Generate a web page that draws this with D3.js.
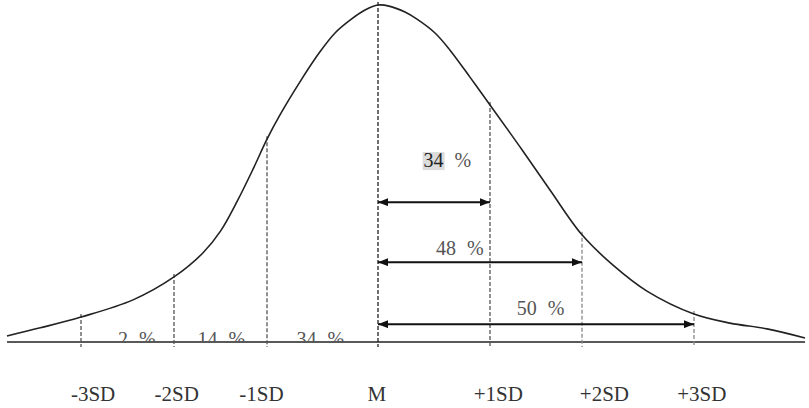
<!DOCTYPE html>
<html>
<head>
<meta charset="utf-8">
<script src="https://cdn.jsdelivr.net/npm/d3@7"></script>
<style>
  html, body { margin: 0; padding: 0; background: #fff; }
  svg { display: block; }
</style>
</head>
<body>
<svg id="chart" width="809" height="408"></svg>
<script>
// Standard deviation marks and their axis labels
const sdTicks  = [-3, -2, -1, 0, 1, 2, 3];
const sdLabels = ["-3SD", "-2SD", "-1SD", "M", "+1SD", "+2SD", "+3SD"];
const sdLabelAt = [-2.87, -1.97, -1.06, -0.01, 1.09, 2.2, 3.07];

// Bell curve outline: position in SD units and relative height (peak = 1)
const curveZ = [-3.8, -3.44, -3, -2.44, -2, -1.69, -1.5, -1.32, -1.15, -1, -0.883, -0.703,
                -0.523, -0.387, -0.252, -0.117, 0, 0.107, 0.241, 0.348, 0.509, 0.643, 0.821,
                1, 1.326, 1.652, 2, 2.277, 2.58, 3, 3.324, 3.658, 4];
const curveH = [0.018, 0.042, 0.074, 0.125, 0.193, 0.264, 0.329, 0.418, 0.513, 0.602, 0.674, 0.772,
                0.861, 0.917, 0.955, 0.985, 1, 0.996, 0.979, 0.958, 0.917, 0.866, 0.786,
                0.703, 0.579, 0.451, 0.318, 0.228, 0.151, 0.083, 0.056, 0.039, 0.012];

// Share of cases in each band left of the mean
const bandLabels = ["2 %", "14 %", "34 %"];
const bandAt = [-2.4, -1.49, -0.52];

// Cumulative shares measured from the mean
const arrowTo = [1, 2, 3];
const arrowLevel = [0.415, 0.237, 0.053];
const arrowPct = ["34", "48", "50"];
const arrowTextAt = [0.62, 0.73, 1.55];
const arrowTextLevel = [0.519, 0.258, 0.08];

const serif = "'Liberation Serif', 'DejaVu Serif', 'Times New Roman', serif";
const svg = d3.select("#chart");

const x = d3.scaleLinear()
  .domain([-3.8, -3, -2, -1, 0, 1, 2, 3, 4])
  .range([7, 81, 174, 267, 378, 490, 582, 694, 805]);
const y = d3.scaleLinear().domain([0, 1]).range([342, 5]);

const pts = curveZ.map((z, i) => [z, curveH[i]]);
const hAt = z => curveH[curveZ.indexOf(z)];

// arrow heads
const defs = svg.append("defs");
["end", "start"].forEach(k => {
  defs.append("marker")
    .attr("id", "head-" + k)
    .attr("viewBox", "0 0 10 8")
    .attr("refX", k === "end" ? 10 : 0)
    .attr("refY", 4)
    .attr("markerWidth", 10)
    .attr("markerHeight", 8)
    .attr("markerUnits", "userSpaceOnUse")
    .attr("orient", "auto")
    .append("path")
    .attr("d", k === "end" ? "M0,0L10,4L0,8Z" : "M10,0L0,4L10,8Z")
    .attr("fill", "#111");
});
defs.append("clipPath").attr("id", "above-base")
  .append("rect").attr("x", 0).attr("y", 0).attr("width", 809).attr("height", y(0));

// baseline
svg.append("line")
  .attr("x1", x(-3.8)).attr("x2", x(4))
  .attr("y1", y(0)).attr("y2", y(0))
  .attr("stroke", "#222").attr("stroke-width", 1.6);

// dashed SD lines
const lineColor = z => z === 0 ? "#222" : (z >= 2 ? "#888" : "#555");
svg.append("g").selectAll("line").data(sdTicks).join("line")
  .attr("x1", d => x(d)).attr("x2", d => x(d))
  .attr("y1", d => y(hAt(d)) - 3)
  .attr("y2", y(0) + 5)
  .attr("stroke", lineColor)
  .attr("stroke-width", 1.3)
  .attr("stroke-dasharray", "4,2");

// curve
svg.append("path")
  .datum(pts)
  .attr("d", d3.line().x(d => x(d[0])).y(d => y(d[1])).curve(d3.curveCatmullRom.alpha(0.5)))
  .attr("fill", "none")
  .attr("stroke", "#222")
  .attr("stroke-width", 1.6);

// band percentages (sitting on the baseline)
svg.append("g").attr("clip-path", "url(#above-base)")
  .selectAll("text").data(bandLabels).join("text")
  .attr("x", (d, i) => x(bandAt[i]))
  .attr("y", y(0) + 4)
  .attr("text-anchor", "middle")
  .attr("font-family", serif)
  .attr("font-size", 20)
  .attr("word-spacing", 6)
  .attr("fill", "#555")
  .text(d => d);

// arrows from the mean
svg.append("g").selectAll("line").data(arrowTo).join("line")
  .attr("x1", x(0)).attr("x2", d => x(d))
  .attr("y1", (d, i) => y(arrowLevel[i]))
  .attr("y2", (d, i) => y(arrowLevel[i]))
  .attr("stroke", "#111")
  .attr("stroke-width", 2)
  .attr("marker-start", "url(#head-start)")
  .attr("marker-end", "url(#head-end)");

// arrow labels
const at = svg.append("g").selectAll("text").data(arrowPct).join("text")
  .attr("x", (d, i) => x(arrowTextAt[i]))
  .attr("y", (d, i) => y(arrowTextLevel[i]))
  .attr("text-anchor", "middle")
  .attr("font-family", serif)
  .attr("font-size", 20)
  .attr("word-spacing", 6)
  .attr("fill", "#555");
at.append("tspan").attr("class", "num").attr("fill", (d, i) => i === 0 ? "#222" : "#555").text(d => d);
at.append("tspan").text(" %");

// highlight behind the first figure
at.filter((d, i) => i === 0).each(function () {
  const bb = this.querySelector(".num").getBBox();
  svg.insert("rect", "g")
    .attr("x", bb.x - 1).attr("y", bb.y + 3)
    .attr("width", bb.width + 2).attr("height", bb.height - 4)
    .attr("fill", "#dcdcdc");
});

// axis labels
svg.append("g").selectAll("text").data(sdLabels).join("text")
  .attr("x", (d, i) => x(sdLabelAt[i]))
  .attr("y", 401)
  .attr("text-anchor", "middle")
  .attr("font-family", serif)
  .attr("font-size", 21)
  .attr("fill", "#333")
  .text(d => d);
</script>
</body>
</html>
